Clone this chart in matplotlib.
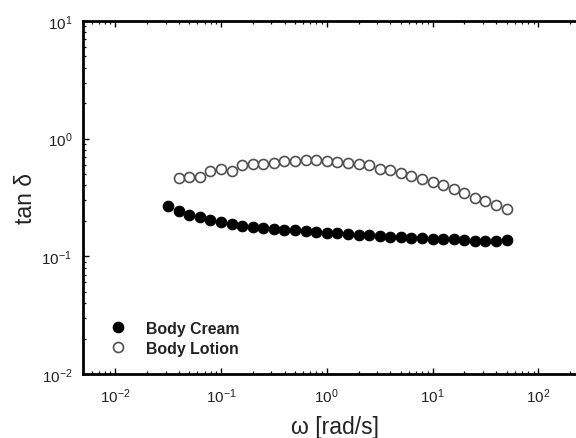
import matplotlib
matplotlib.use("Agg")
import matplotlib.pyplot as plt
from matplotlib.ticker import LogLocator, LogFormatterSciNotation, NullFormatter
import numpy as np

plt.rcParams['font.family'] = ['Liberation Sans', 'DejaVu Sans']
plt.rcParams['mathtext.fontset'] = 'custom'
plt.rcParams['mathtext.rm'] = 'Liberation Sans'
plt.rcParams['mathtext.it'] = 'Liberation Sans:italic'
plt.rcParams['mathtext.bf'] = 'Liberation Sans:bold'
plt.rcParams['mathtext.default'] = 'regular'

# --- data ---
cream_omega = [0.0316, 0.0398, 0.0501, 0.0631, 0.0794, 0.1, 0.126, 0.158, 0.2, 0.251,
               0.316, 0.398, 0.501, 0.631, 0.794, 1.0, 1.26, 1.58, 2.0, 2.51,
               3.16, 3.98, 5.01, 6.31, 7.94, 10.0, 12.6, 15.8, 20.0, 25.1,
               31.6, 39.8, 50.1]
cream_tand = [0.267, 0.243, 0.226, 0.214, 0.205, 0.197, 0.187, 0.182, 0.178, 0.174,
              0.171, 0.169, 0.167, 0.164, 0.161, 0.159, 0.157, 0.155, 0.153, 0.151,
              0.149, 0.147, 0.145, 0.144, 0.143, 0.141, 0.141, 0.140, 0.138, 0.136,
              0.135, 0.136, 0.138]

lotion_omega = [0.0398, 0.0501, 0.0631, 0.0794, 0.1, 0.126, 0.158, 0.2, 0.251,
                0.316, 0.398, 0.501, 0.631, 0.794, 1.0, 1.26, 1.58, 2.0, 2.51,
                3.16, 3.98, 5.01, 6.31, 7.94, 10.0, 12.6, 15.8, 20.0, 25.1,
                31.6, 39.8, 50.1]
lotion_tand = [0.459, 0.471, 0.474, 0.533, 0.547, 0.526, 0.592, 0.604, 0.612, 0.624,
               0.640, 0.649, 0.657, 0.653, 0.640, 0.632, 0.616, 0.604, 0.592, 0.555,
               0.537, 0.506, 0.480, 0.450, 0.427, 0.400, 0.370, 0.346, 0.314, 0.294,
               0.275, 0.253]

series_labels = ['Body Cream', 'Body Lotion']
x_label = 'ω [rad/s]'
y_label = 'tan δ'

# --- layout ---
W, H = 576, 439
fig = plt.figure(figsize=(W / 100, H / 100), dpi=100)
xmin, xmax = 0.005, 900.0
px_per_dec = 105.8
ax_w = (np.log10(xmax) - np.log10(xmin)) * px_per_dec / W
ax = fig.add_axes([83.3 / W, 64 / H, ax_w, 353 / H])

ax.set_xscale('log')
ax.set_yscale('log')
ax.set_xlim(xmin, xmax)
ax.set_ylim(0.01, 10)

ax.plot(cream_omega, cream_tand, linestyle='none', marker='o', markersize=7.6,
        markerfacecolor='black', markeredgecolor='black', markeredgewidth=0.8,
        label=series_labels[0])
ax.plot(lotion_omega, lotion_tand, linestyle='none', marker='o', markersize=7.2,
        markerfacecolor='white', markeredgecolor='#505050', markeredgewidth=1.2,
        label=series_labels[1])

for s in ax.spines.values():
    s.set_linewidth(2.0)
    s.set_color('black')

ax.xaxis.set_major_locator(LogLocator(base=10, numticks=20))
ax.xaxis.set_minor_locator(LogLocator(base=10, subs=np.arange(2, 10), numticks=20))
ax.yaxis.set_major_locator(LogLocator(base=10, numticks=20))
ax.yaxis.set_minor_locator(LogLocator(base=10, subs=np.arange(2, 10), numticks=20))
ax.xaxis.set_major_formatter(LogFormatterSciNotation())
ax.yaxis.set_major_formatter(LogFormatterSciNotation())
ax.xaxis.set_minor_formatter(NullFormatter())
ax.yaxis.set_minor_formatter(NullFormatter())

ax.tick_params(which='both', direction='in', top=True, right=True, colors='black')
ax.tick_params(which='major', length=4.5, width=1.0, labelsize=11, labelcolor='#222222')
ax.tick_params(which='minor', length=2.5, width=0.9)
ax.tick_params(axis='y', which='major', pad=8)
ax.tick_params(axis='x', which='major', pad=9)

fig.text(335 / W, 1 - 428 / H, x_label, ha='center', va='center', fontsize=16.5, color='#222222')
fig.text(25 / W, 1 - 199 / H, y_label, ha='center', va='center', rotation=90,
         fontsize=16.5, color='#222222')

leg = ax.legend(loc='upper left', bbox_to_anchor=(110 / W, 1 - 322 / H),
                bbox_transform=fig.transFigure, frameon=False, borderpad=0,
                borderaxespad=0, handlelength=1.0, handletextpad=1.3,
                labelspacing=0.3, prop={'weight': 'bold', 'size': 11.4})
for t in leg.get_texts():
    t.set_color('#222222')

fig.savefig('out.png', dpi=100)
